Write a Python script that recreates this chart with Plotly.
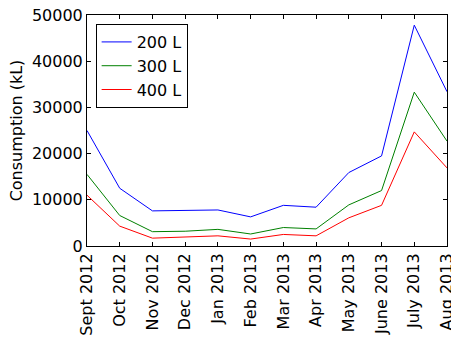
import plotly.graph_objects as go

months = ["Sept 2012", "Oct 2012", "Nov 2012", "Dec 2012", "Jan 2013", "Feb 2013",
          "Mar 2013", "Apr 2013", "May 2013", "June 2013", "July 2013", "Aug 2013"]
s200 = [25000, 12500, 7600, 7700, 7800, 6300, 8800, 8400, 15900, 19500, 47800, 33400]
s300 = [15500, 6600, 3100, 3200, 3600, 2600, 4000, 3700, 8900, 12000, 33300, 22700]
s400 = [11000, 4300, 1700, 1900, 2200, 1500, 2500, 2200, 6100, 8800, 24700, 16900]

names = ["200 L", "300 L", "400 L"]
colors = ["#0000ff", "#008000", "#ff0000"]
series = [s200, s300, s400]

fig = go.Figure()
for n, c, s in zip(names, colors, series):
    fig.add_trace(go.Scatter(x=list(range(len(months))), y=s, mode="lines", name=n,
                             line=dict(color=c, width=1)))

fnt = dict(family="DejaVu Sans", size=16, color="black")
fig.update_layout(
    width=451, height=339,
    margin=dict(l=87, r=4, t=15, b=93),
    paper_bgcolor="white", plot_bgcolor="white",
    font=fnt,
    showlegend=True,
    legend=dict(x=0.024, y=0.961, xanchor="left", yanchor="top",
                bordercolor="black", borderwidth=1, bgcolor="white",
                font=dict(family="DejaVu Sans", size=16, color="black"),
                itemwidth=30, tracegroupgap=2, entrywidth=100),
    xaxis=dict(range=[0, 11], tickmode="array", tickvals=list(range(12)), ticktext=months,
               tickangle=-90, ticks="inside", ticklen=4, tickcolor="black",
               showline=True, linecolor="black", linewidth=1, mirror="ticks",
               showgrid=False, zeroline=False, tickfont=fnt,
               ticklabeloverflow="allow", automargin=False),
    yaxis=dict(range=[0, 50000], tickmode="array",
               tickvals=[0, 10000, 20000, 30000, 40000, 50000],
               ticktext=["0", "10000", "20000", "30000", "40000", "50000"],
               ticks="inside", ticklen=4, tickcolor="black",
               showline=True, linecolor="black", linewidth=1, mirror="ticks",
               showgrid=False, zeroline=False, tickfont=fnt, automargin=False,
               title=dict(text="Consumption (kL)", font=fnt, standoff=5)),
)
fig.write_html("out.html")
